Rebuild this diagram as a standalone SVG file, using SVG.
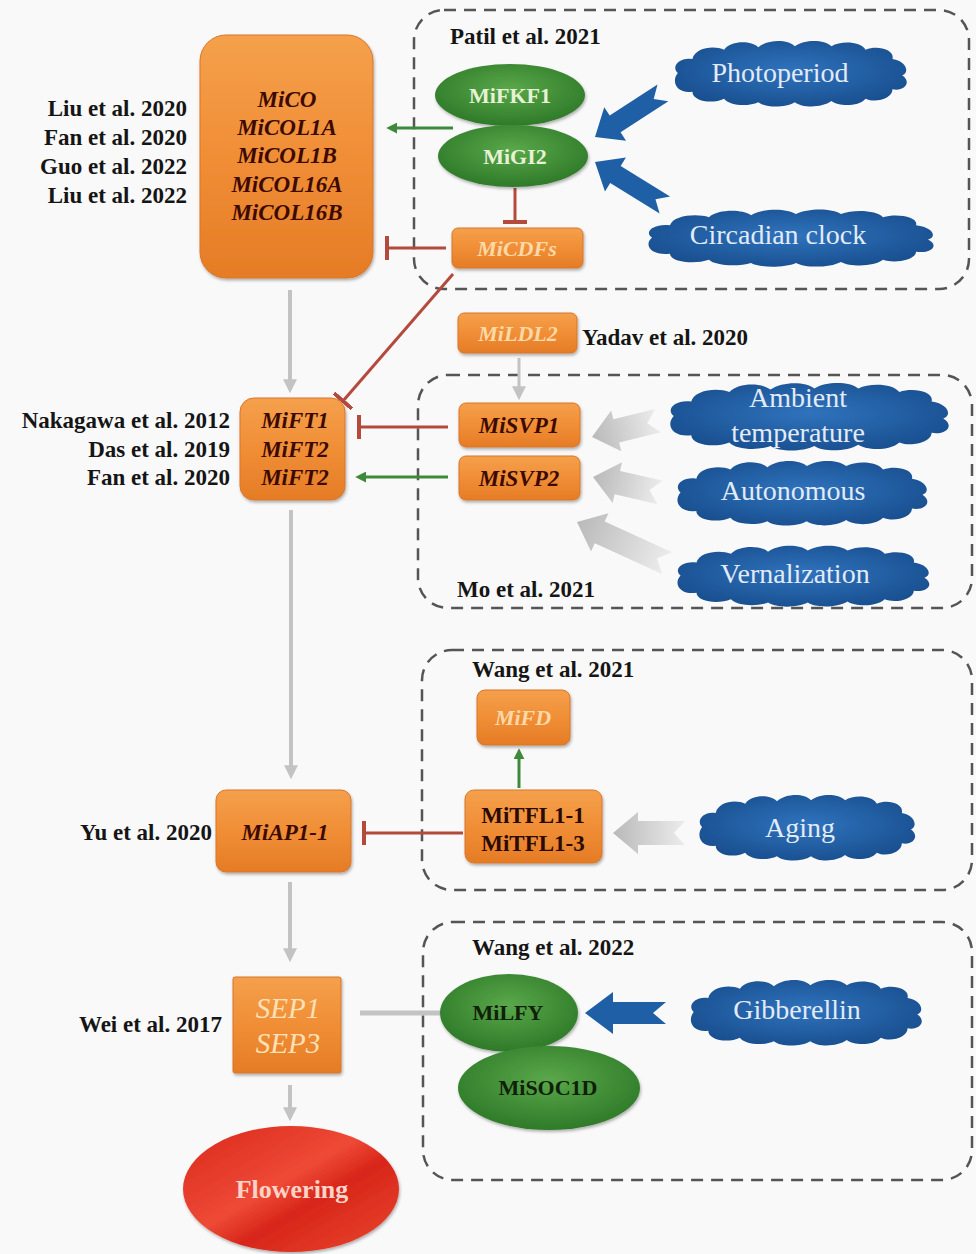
<svg xmlns="http://www.w3.org/2000/svg" xmlns:xlink="http://www.w3.org/1999/xlink" width="976" height="1254" viewBox="0 0 976 1254">
<defs>
<style>
.ref{font-family:"Liberation Serif","Times New Roman",serif;font-weight:bold;font-size:23px;fill:#151515}
.gene{font-family:"Liberation Serif","Times New Roman",serif;font-weight:bold;font-style:italic;font-size:23px;fill:#3d0a02}
.glight{font-family:"Liberation Serif","Times New Roman",serif;font-weight:bold;font-style:italic;font-size:22px;fill:#fcd9a6}
.prot{font-family:"Liberation Serif","Times New Roman",serif;font-weight:bold;font-size:23px;fill:#2a0a02}
.gtxt{font-family:"Liberation Serif","Times New Roman",serif;font-weight:bold;font-size:22px}
.ctxt{font-family:"Liberation Serif","Times New Roman",serif;font-size:28px;fill:#e2ebf6}
.dash{fill:none;stroke:#555;stroke-width:2.5;stroke-dasharray:12 8}
.obox{fill:url(#orange);stroke:#d8762a;stroke-width:1;filter:url(#shadow)}
.gray{fill:none;stroke:#c3c3c3;stroke-width:4}
.green{fill:none;stroke:#3e8a3a;stroke-width:3}
.red{fill:none;stroke:#b34a3c;stroke-width:3}
.barrow{fill:#1f5fa6}
.garrow{fill:url(#grayarrow)}
</style>
<linearGradient id="orange" x1="0" y1="0" x2="0" y2="1">
<stop offset="0" stop-color="#f5a04c"/>
<stop offset="0.5" stop-color="#f08e36"/>
<stop offset="1" stop-color="#e57c26"/>
</linearGradient>
<radialGradient id="green" cx="0.5" cy="0.4" r="0.6">
<stop offset="0" stop-color="#5aa84a"/>
<stop offset="1" stop-color="#2e7a29"/>
</radialGradient>
<radialGradient id="blue" cx="0.5" cy="0.45" r="0.6">
<stop offset="0" stop-color="#2f73bd"/>
<stop offset="1" stop-color="#184e8e"/>
</radialGradient>
<linearGradient id="red" x1="0" y1="0" x2="1" y2="1">
<stop offset="0" stop-color="#d9281c"/>
<stop offset="0.45" stop-color="#ee4a36"/>
<stop offset="0.6" stop-color="#d8261a"/>
<stop offset="1" stop-color="#e9462e"/>
</linearGradient>
<linearGradient id="grayarrow" x1="0" y1="0" x2="1" y2="0">
<stop offset="0" stop-color="#ececec"/>
<stop offset="1" stop-color="#b9b9b9"/>
</linearGradient>
<filter id="shadow" x="-10%" y="-10%" width="125%" height="130%">
<feDropShadow dx="1" dy="2" stdDeviation="1.5" flood-color="#000" flood-opacity="0.3"/>
</filter>
<symbol id="cloud" viewBox="0 0 200 60" preserveAspectRatio="none">
<path fill="url(#blue)" d="M8,30 C2,24 10,16 20,18 C22,8 38,6 46,10 C52,2 68,2 74,8 C82,1 98,1 104,7 C112,1 128,1 134,7 C142,2 158,3 162,10 C172,6 186,10 184,18 C196,20 198,30 192,32 C200,38 194,46 184,44 C184,52 170,56 162,52 C156,59 140,59 134,54 C126,60 110,60 104,55 C96,60 80,60 74,55 C66,59 50,58 46,52 C36,57 20,54 20,46 C8,48 2,38 8,30 Z"/>
</symbol>
<marker id="ah-gray" viewBox="0 0 10 10" refX="2" refY="5" markerWidth="14" markerHeight="14" markerUnits="userSpaceOnUse" orient="auto">
<path d="M0,0 L10,5 L0,10 Z" fill="#c3c3c3"/>
</marker>
<marker id="ah-green" viewBox="0 0 10 10" refX="2" refY="5" markerWidth="11" markerHeight="11" markerUnits="userSpaceOnUse" orient="auto">
<path d="M0,0 L10,5 L0,10 Z" fill="#3e8a3a"/>
</marker>
<marker id="tbar" viewBox="0 0 4 24" refX="2" refY="12" markerWidth="4" markerHeight="24" markerUnits="userSpaceOnUse" orient="auto">
<rect x="0" y="0" width="4" height="24" fill="#b34a3c"/>
</marker>
</defs>

<rect width="976" height="1254" fill="#f9f9f9"/>

<g id="groups">
<rect class="dash" x="414" y="10" width="555" height="279" rx="30"/>
<rect class="dash" x="418" y="375" width="554" height="233" rx="30"/>
<rect class="dash" x="422" y="650" width="550" height="240" rx="30"/>
<rect class="dash" x="423" y="922" width="549" height="258" rx="30"/>
</g>

<g id="connectors">
<path class="gray" d="M290,290 L290,382" marker-end="url(#ah-gray)"/>
<path class="gray" d="M291,510 L291,768" marker-end="url(#ah-gray)"/>
<path class="gray" d="M290,882 L290,951" marker-end="url(#ah-gray)"/>
<path class="gray" d="M290,1085 L290,1110" marker-end="url(#ah-gray)"/>
<path class="gray" style="stroke-width:3" d="M519,358 L519,389" marker-end="url(#ah-gray)"/>
<path class="gray" style="stroke-width:5" d="M360,1013 L441,1013"/>
<path class="green" d="M453,128 L395,128" marker-end="url(#ah-green)"/>
<path class="green" d="M448,477 L364,477" marker-end="url(#ah-green)"/>
<path class="green" d="M519,788 L519,757" marker-end="url(#ah-green)"/>
<path class="red" d="M515,188 L515,222" marker-end="url(#tbar)"/>
<path class="red" d="M446,248 L387,248" marker-end="url(#tbar)"/>
<path class="red" d="M448,427 L359,427" marker-end="url(#tbar)"/>
<path class="red" d="M463,833 L364,833" marker-end="url(#tbar)"/>
<path class="red" d="M453,274 L343,401" marker-end="url(#tbar)"/>
<path class="barrow" transform="translate(595,137) rotate(147)" d="M0,0 L-24,-20 L-24,-10 L-81,-10 L-70,0 L-81,10 L-24,10 L-24,20 Z"/>
<path class="barrow" transform="translate(595,162) rotate(211.6)" d="M0,0 L-24,-20 L-24,-10 L-82,-10 L-71,0 L-82,10 L-24,10 L-24,20 Z"/>
<path class="barrow" transform="translate(585,1013) rotate(180)" d="M0,0 L-28,-21 L-28,-11 L-81,-11 L-68,0 L-81,11 L-28,11 L-28,21 Z"/>
<path class="garrow" transform="translate(592,437) rotate(166)" d="M0,0 L-25,-21 L-25,-12 L-68,-12 L-57,0 L-68,12 L-25,12 L-25,21 Z"/>
<path class="garrow" transform="translate(593,477) rotate(193)" d="M0,0 L-25,-21 L-25,-12 L-69,-12 L-58,0 L-69,12 L-25,12 L-25,21 Z"/>
<path class="garrow" transform="translate(577,522) rotate(204.5)" d="M0,0 L-25,-21 L-25,-12 L-99,-12 L-88,0 L-99,12 L-25,12 L-25,21 Z"/>
<path class="garrow" transform="translate(613,833) rotate(180)" d="M0,0 L-25,-21 L-25,-12 L-72,-12 L-61,0 L-72,12 L-25,12 L-25,21 Z"/>
</g>

<g id="node-MiCO">
<rect class="obox" x="200" y="35" width="173" height="243" rx="26"/>
<text class="gene" text-anchor="middle" x="287" y="107">MiCO</text>
<text class="gene" text-anchor="middle" x="287" y="135">MiCOL1A</text>
<text class="gene" text-anchor="middle" x="287" y="163">MiCOL1B</text>
<text class="gene" text-anchor="middle" x="287" y="192">MiCOL16A</text>
<text class="gene" text-anchor="middle" x="287" y="220">MiCOL16B</text>
</g>
<g id="refs-MiCO">
<text class="ref" text-anchor="end" x="187" y="116">Liu et al. 2020</text>
<text class="ref" text-anchor="end" x="187" y="145">Fan et al. 2020</text>
<text class="ref" text-anchor="end" x="187" y="174">Guo et al. 2022</text>
<text class="ref" text-anchor="end" x="187" y="203">Liu et al. 2022</text>
</g>

<g id="ref-Patil"><text class="ref" x="450" y="44">Patil et al. 2021</text></g>

<g id="node-MiFKF1">
<ellipse cx="510" cy="95" rx="75" ry="31" fill="url(#green)" filter="url(#shadow)"/>
<text class="gtxt" fill="#e6f2d5" text-anchor="middle" x="510" y="103">MiFKF1</text>
</g>
<g id="node-MiGI2">
<ellipse cx="513" cy="156" rx="75" ry="31" fill="url(#green)" filter="url(#shadow)"/>
<text class="gtxt" fill="#e6f2d5" text-anchor="middle" x="515" y="164">MiGI2</text>
</g>
<g id="node-MiCDFs">
<rect class="obox" x="452" y="228" width="131" height="40" rx="6"/>
<text class="glight" text-anchor="middle" x="517" y="256">MiCDFs</text>
</g>

<g id="node-Photoperiod">
<use href="#cloud" x="668" y="38" width="244" height="70"/>
<text class="ctxt" text-anchor="middle" x="780" y="82">Photoperiod</text>
</g>
<g id="node-Circadian">
<use href="#cloud" x="640" y="207" width="300" height="61"/>
<text class="ctxt" text-anchor="middle" x="778" y="244">Circadian clock</text>
</g>

<g id="node-MiLDL2">
<rect class="obox" x="458" y="313" width="119" height="40" rx="6"/>
<text class="glight" text-anchor="middle" x="518" y="341">MiLDL2</text>
</g>
<g id="ref-Yadav"><text class="ref" x="582" y="345">Yadav et al. 2020</text></g>

<g id="node-MiFT">
<rect class="obox" x="240" y="398" width="105" height="102" rx="14"/>
<text class="gene" text-anchor="middle" x="295" y="428">MiFT1</text>
<text class="gene" text-anchor="middle" x="295" y="457">MiFT2</text>
<text class="gene" text-anchor="middle" x="295" y="485">MiFT2</text>
</g>
<g id="refs-MiFT">
<text class="ref" text-anchor="end" x="230" y="428">Nakagawa et al. 2012</text>
<text class="ref" text-anchor="end" x="230" y="457">Das et al. 2019</text>
<text class="ref" text-anchor="end" x="230" y="485">Fan et al. 2020</text>
</g>

<g id="node-MiSVP1">
<rect class="obox" x="459" y="403" width="121" height="44" rx="7"/>
<text class="gene" text-anchor="middle" x="519" y="433">MiSVP1</text>
</g>
<g id="node-MiSVP2">
<rect class="obox" x="459" y="456" width="121" height="44" rx="7"/>
<text class="gene" text-anchor="middle" x="519" y="486">MiSVP2</text>
</g>

<g id="node-Ambient">
<use href="#cloud" x="662" y="380" width="293" height="72"/>
<text class="ctxt" text-anchor="middle" x="798" y="407">Ambient</text>
<text class="ctxt" text-anchor="middle" x="798" y="442">temperature</text>
</g>
<g id="node-Autonomous">
<use href="#cloud" x="670" y="458" width="263" height="69"/>
<text class="ctxt" text-anchor="middle" x="793" y="500">Autonomous</text>
</g>
<g id="node-Vernalization">
<use href="#cloud" x="670" y="543" width="265" height="65"/>
<text class="ctxt" text-anchor="middle" x="795" y="583">Vernalization</text>
</g>
<g id="ref-Mo"><text class="ref" x="457" y="597">Mo et al. 2021</text></g>

<g id="ref-Wang2021"><text class="ref" x="472" y="677">Wang et al. 2021</text></g>
<g id="node-MiFD">
<rect class="obox" x="477" y="690" width="93" height="55" rx="8"/>
<text class="glight" text-anchor="middle" x="523" y="725">MiFD</text>
</g>
<g id="node-MiTFL1">
<rect class="obox" x="465" y="790" width="137" height="73" rx="9"/>
<text class="prot" text-anchor="middle" x="533" y="823">MiTFL1-1</text>
<text class="prot" text-anchor="middle" x="533" y="851">MiTFL1-3</text>
</g>
<g id="node-Aging">
<use href="#cloud" x="693" y="792" width="227" height="70"/>
<text class="ctxt" text-anchor="middle" x="800" y="837">Aging</text>
</g>

<g id="node-MiAP1">
<rect class="obox" x="216" y="790" width="135" height="82" rx="10"/>
<text class="gene" text-anchor="middle" x="285" y="840">MiAP1-1</text>
</g>
<g id="ref-Yu"><text class="ref" text-anchor="end" x="212" y="840">Yu et al. 2020</text></g>

<g id="ref-Wang2022"><text class="ref" x="472" y="955">Wang et al. 2022</text></g>
<g id="node-SEP">
<rect class="obox" x="233" y="977" width="108" height="96" rx="2"/>
<text text-anchor="middle" x="288" y="1018" style="font-family:'Liberation Serif','Times New Roman',serif;font-style:italic;font-size:29px;fill:#fde1b6">SEP1</text>
<text text-anchor="middle" x="288" y="1053" style="font-family:'Liberation Serif','Times New Roman',serif;font-style:italic;font-size:29px;fill:#fde1b6">SEP3</text>
</g>
<g id="ref-Wei"><text class="ref" text-anchor="end" x="222" y="1032">Wei et al. 2017</text></g>

<g id="node-MiLFY">
<ellipse cx="509" cy="1013" rx="69" ry="39" fill="url(#green)" filter="url(#shadow)"/>
<text class="gtxt" fill="#10200a" text-anchor="middle" x="508" y="1020">MiLFY</text>
</g>
<g id="node-MiSOC1D">
<ellipse cx="549" cy="1088" rx="91" ry="42" fill="url(#green)" filter="url(#shadow)"/>
<text class="gtxt" fill="#10200a" text-anchor="middle" x="548" y="1095">MiSOC1D</text>
</g>
<g id="node-Gibberellin">
<use href="#cloud" x="684" y="977" width="243" height="70"/>
<text class="ctxt" text-anchor="middle" x="797" y="1019">Gibberellin</text>
</g>

<g id="node-Flowering">
<ellipse cx="291" cy="1189" rx="108" ry="63" fill="url(#red)" filter="url(#shadow)"/>
<text text-anchor="middle" x="292" y="1198" style="font-family:'Liberation Serif','Times New Roman',serif;font-weight:bold;font-size:26px;fill:#fcd3c6">Flowering</text>
</g>
</svg>
